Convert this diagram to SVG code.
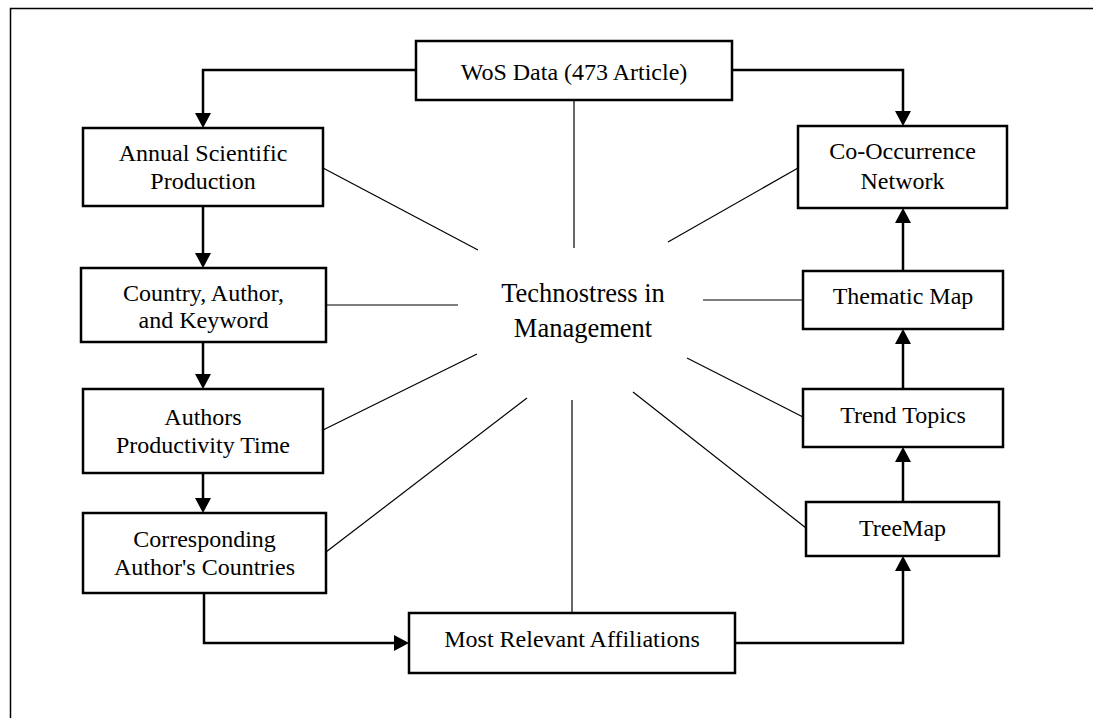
<svg xmlns="http://www.w3.org/2000/svg" width="1093" height="718" viewBox="0 0 1093 718">
  <style>
    .box { fill: #ffffff; stroke: #000000; stroke-width: 2.5; }
    .lbl { font-family: "Liberation Serif", "Times New Roman", serif; font-size: 24px; fill: #000000; text-anchor: middle; }
    .center { font-family: "Liberation Serif", "Times New Roman", serif; font-size: 26.5px; fill: #000000; text-anchor: middle; }
    .flow { fill: none; stroke: #000000; stroke-width: 2.5; marker-end: url(#arrow); }
    .spoke { fill: none; stroke: #000000; stroke-width: 1.2; }
    .frame { fill: none; stroke: #000000; stroke-width: 1.5; }
  </style>
  <defs>
    <marker id="arrow" viewBox="0 0 15 16" refX="11" refY="8" markerWidth="15" markerHeight="16" markerUnits="userSpaceOnUse" orient="auto">
      <path d="M0,0 L15,8 L0,16 z" fill="#000000"/>
    </marker>
  </defs>
  <rect x="0" y="0" width="1093" height="718" fill="#ffffff"/>
  <path class="frame" d="M10.5,718 V8.5 H1093"/>

  <g id="connectors">
    <line class="spoke" x1="574" y1="100" x2="574" y2="248"/>
    <line class="spoke" x1="323" y1="168" x2="478" y2="250"/>
    <line class="spoke" x1="798" y1="168" x2="668" y2="242"/>
    <line class="spoke" x1="326" y1="305" x2="458" y2="305"/>
    <line class="spoke" x1="803" y1="300" x2="703" y2="300"/>
    <line class="spoke" x1="323" y1="430" x2="477" y2="354"/>
    <line class="spoke" x1="803" y1="417" x2="687" y2="358"/>
    <line class="spoke" x1="326" y1="552" x2="527" y2="398"/>
    <line class="spoke" x1="572" y1="400" x2="572" y2="613"/>
    <line class="spoke" x1="806" y1="528" x2="633" y2="392"/>
    <path class="flow" d="M416,70 H203 V124"/>
    <path class="flow" d="M732,70 H903 V122"/>
    <path class="flow" d="M203,206 V264"/>
    <path class="flow" d="M203,342 V385"/>
    <path class="flow" d="M203,473 V509"/>
    <path class="flow" d="M204,593 V643 H405"/>
    <path class="flow" d="M735,643 H903 V560"/>
    <path class="flow" d="M903,502 V451"/>
    <path class="flow" d="M903,389 V333"/>
    <path class="flow" d="M903,271 V212"/>
  </g>

  <g id="node-wos">
    <rect class="box" x="416" y="41" width="316" height="59"/>
    <text class="lbl" x="574" y="80">WoS Data (473 Article)</text>
  </g>
  <g id="node-annual">
    <rect class="box" x="83" y="128" width="240" height="78"/>
    <text class="lbl" x="203" y="161">Annual Scientific</text>
    <text class="lbl" x="203" y="189">Production</text>
  </g>
  <g id="node-country">
    <rect class="box" x="81" y="268" width="245" height="74"/>
    <text class="lbl" x="203.5" y="301">Country, Author,</text>
    <text class="lbl" x="203.5" y="328">and Keyword</text>
  </g>
  <g id="node-authors">
    <rect class="box" x="83" y="389" width="240" height="84"/>
    <text class="lbl" x="203" y="425">Authors</text>
    <text class="lbl" x="203" y="453">Productivity Time</text>
  </g>
  <g id="node-corresponding">
    <rect class="box" x="83" y="513" width="243" height="80"/>
    <text class="lbl" x="204.5" y="547">Corresponding</text>
    <text class="lbl" x="204.5" y="575">Author's Countries</text>
  </g>
  <g id="node-affiliations">
    <rect class="box" x="409" y="613" width="326" height="60"/>
    <text class="lbl" x="572" y="647">Most Relevant Affiliations</text>
  </g>
  <g id="node-treemap">
    <rect class="box" x="806" y="502" width="193" height="54"/>
    <text class="lbl" x="902.5" y="536">TreeMap</text>
  </g>
  <g id="node-trend">
    <rect class="box" x="803" y="389" width="200" height="58"/>
    <text class="lbl" x="903" y="423">Trend Topics</text>
  </g>
  <g id="node-thematic">
    <rect class="box" x="803" y="271" width="200" height="58"/>
    <text class="lbl" x="903" y="304">Thematic Map</text>
  </g>
  <g id="node-cooccurrence">
    <rect class="box" x="798" y="126" width="209" height="82"/>
    <text class="lbl" x="902.5" y="159">Co-Occurrence</text>
    <text class="lbl" x="902.5" y="189">Network</text>
  </g>
  <g id="node-center">
    <text class="center" x="583" y="302">Technostress in</text>
    <text class="center" x="583" y="337">Management</text>
  </g>
</svg>
